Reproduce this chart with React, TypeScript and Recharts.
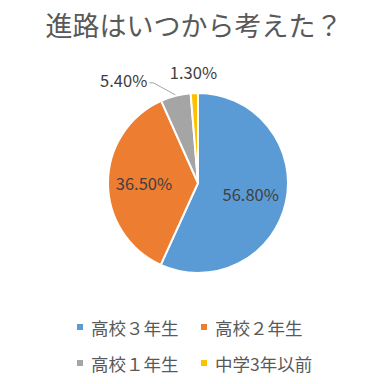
import { PieChart, Pie, Cell, Legend } from 'recharts'

const categories = ['高校３年生', '高校２年生', '高校１年生', '中学3年以前']
const shares = [56.8, 36.5, 5.4, 1.3]
const colors = ['#5B9BD5', '#ED7D31', '#A5A5A5', '#FFC000']

const data = categories.map((name, i) => ({ name, value: shares[i] }))

const RAD = Math.PI / 180
const font = '"Noto Sans CJK JP", "Noto Sans", sans-serif'

function renderLabel(props: any) {
  const { cx, cy, midAngle, outerRadius, value, index } = props
  const text = `${value.toFixed(2)}%`
  const cos = Math.cos(-midAngle * RAD)
  const sin = Math.sin(-midAngle * RAD)
  if (value > 10) {
    const r = outerRadius * 0.6
    return (
      <text x={cx + r * cos} y={cy + r * sin} fill="#404040" fontSize={16.5} fontFamily={font}
        textAnchor="middle" dominantBaseline="central">{text}</text>
    )
  }
  if (index === 2) {
    // leader line out to the left for the grey slice
    const sx = cx + (outerRadius + 1) * cos
    const sy = cy + (outerRadius + 1) * sin
    const ex = sx - 22
    const ey = sy - 12
    return (
      <g>
        <polyline points={`${sx},${sy} ${ex},${ey} ${ex - 4},${ey}`} stroke="#A6A6A6" fill="none" strokeWidth={1} />
        <text x={ex - 6} y={ey - 3} fill="#404040" fontSize={16.5} fontFamily={font}
          textAnchor="end" dominantBaseline="central">{text}</text>
      </g>
    )
  }
  const r = outerRadius + 21
  return (
    <text x={cx + r * cos} y={cy + r * sin} fill="#404040" fontSize={16.5} fontFamily={font}
      textAnchor="middle" dominantBaseline="central">{text}</text>
  )
}

function LegendBox() {
  return (
    <div style={{ display: 'grid', gridTemplateColumns: '124px 140px', rowGap: 14, paddingLeft: 77, fontFamily: font }}>
      {categories.map((c, i) => (
        <div key={c} style={{ display: 'flex', alignItems: 'center', height: 22 }}>
          <span style={{ width: 6, height: 6, background: colors[i], marginRight: 8 }} />
          <span style={{ fontSize: 17.5, color: '#595959' }}>{c}</span>
        </div>
      ))}
    </div>
  )
}

export default function App() {
  return (
    <div style={{ position: 'absolute', left: 0, top: 0, width: 388, height: 384, background: '#fff' }}>
      <div style={{ position: 'absolute', top: 5, width: 388, textAlign: 'center', fontSize: 27, color: '#595959', fontFamily: font }}>
        進路はいつから考えた？
      </div>
      <PieChart width={388} height={384}>
        <Pie data={data} dataKey="value" nameKey="name" cx={193} cy={178} outerRadius={90}
          startAngle={90} endAngle={-270} stroke="#fff" strokeWidth={2}
          label={renderLabel} labelLine={false} isAnimationActive={false}>
          {data.map((d, i) => <Cell key={d.name} fill={colors[i]} />)}
        </Pie>
        <Legend content={<LegendBox />} wrapperStyle={{ left: 0, top: 316, width: 388 }} />
      </PieChart>
    </div>
  )
}
